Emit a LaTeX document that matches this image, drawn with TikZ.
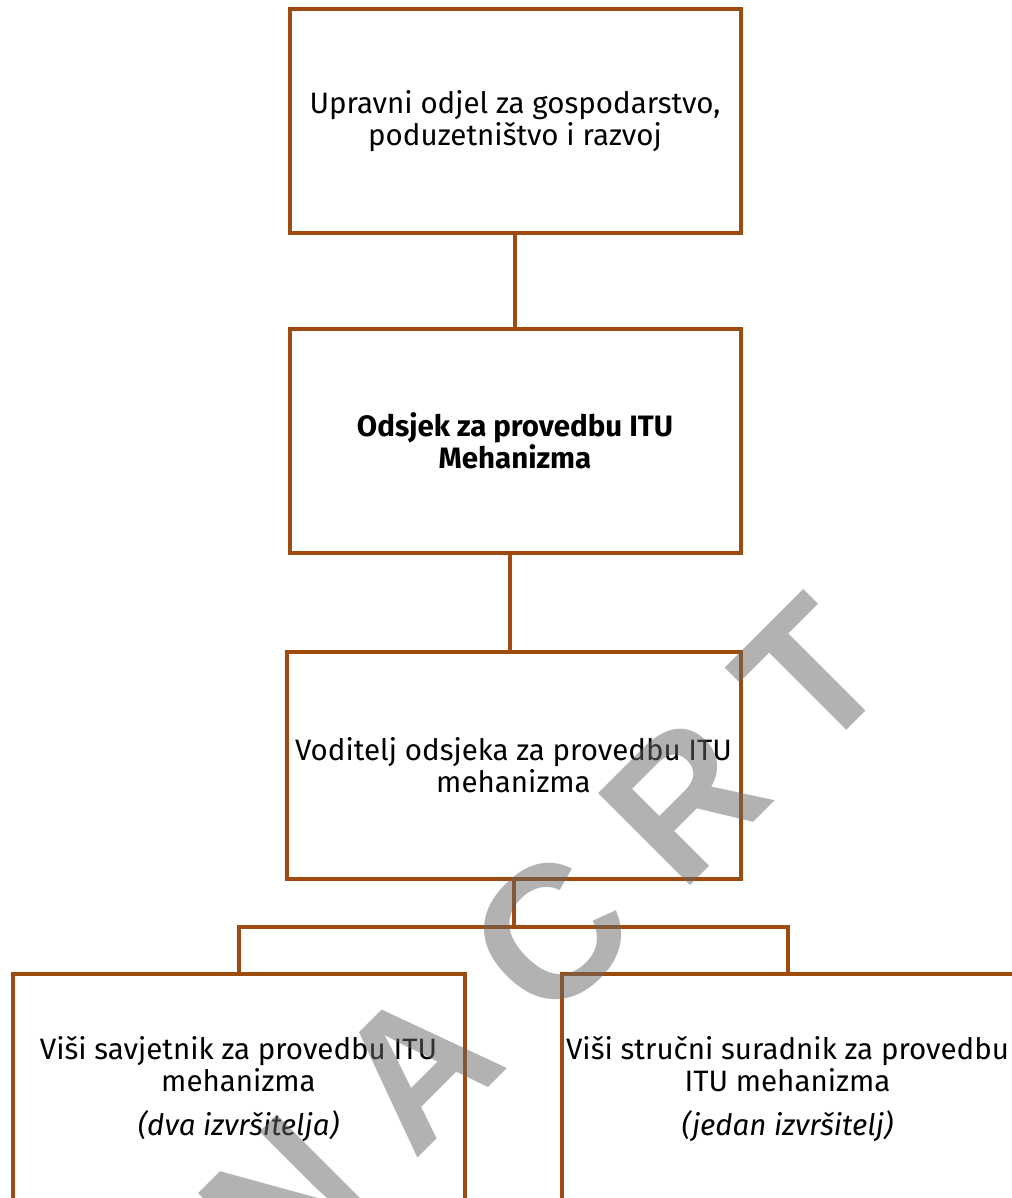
\documentclass[tikz,border=0pt]{standalone}
\usepackage{fontspec}
\setmainfont{Fira Sans}
\newfontfamily\stampfont{Liberation Sans}
\usepackage{tikz}
\usetikzlibrary{positioning}
\definecolor{orgbrown}{RGB}{158,75,14}
\tikzstyle{unit} = [rectangle, draw=orgbrown, line width=4pt, align=center,
    inner sep=2pt, outer sep=0pt, minimum width=451pt, minimum height=224pt,
    font=\fontsize{29.5}{32}\selectfont]
\tikzstyle{link} = [draw=orgbrown, line width=4pt]
\tikzstyle{stamp} = [text=black!60, text opacity=0.5, rotate=45, inner sep=0pt,
    font=\stampfont\bfseries\fontsize{189}{189}\selectfont]

\begin{document}
\begin{tikzpicture}[x=1pt, y=1pt, node distance=96pt]
      \useasboundingbox (0,0) rectangle (1011,-1198);
      % Org chart
      \node [unit] (dept) at (515,-121) {Upravni odjel za gospodarstvo,\\poduzetništvo i razvoj};
      \node [unit, below=of dept] (section) {\textbf{Odsjek za provedbu ITU}\\\textbf{Mehanizma}};
      \node [unit, below=99pt of section, xshift=-1.5pt, minimum width=454pt, minimum height=227pt] (head) {Voditelj odsjeka za provedbu ITU\\mehanizma};
      \node [unit, below=94.5pt of head, xshift=-275pt, minimum width=452pt, minimum height=232pt] (advisor) {Viši savjetnik za provedbu ITU\\mehanizma\\[12pt]\textit{(dva izvršitelja)}};
      \node [unit, below=94.5pt of head, xshift=274pt, minimum width=452pt, minimum height=232pt] (associate) {Viši stručni suradnik za provedbu\\ITU mehanizma\\[12pt]\textit{(jedan izvršitelj)}};
      % Draw edges
      \path [link] (dept) -- (section);
      \path [link] ([xshift=-5pt]section.south) -- ([xshift=-5pt]section.south |- head.north);
      \path [link] (head.south) -- ++(0,-48) coordinate (bus);
      \path [link] (advisor.north) |- (bus) -| (associate.north);
      % Watermark
      \foreach \ch/\px/\py in {N/283.75/-1200.75, A/417.25/-1067.25, C/550.75/-933.75, R/684.25/-800.25, T/810.25/-674.25}
        \node [stamp] (stamp-\ch) at (\px,\py) {\ch};
    \end{tikzpicture}
\end{document}
